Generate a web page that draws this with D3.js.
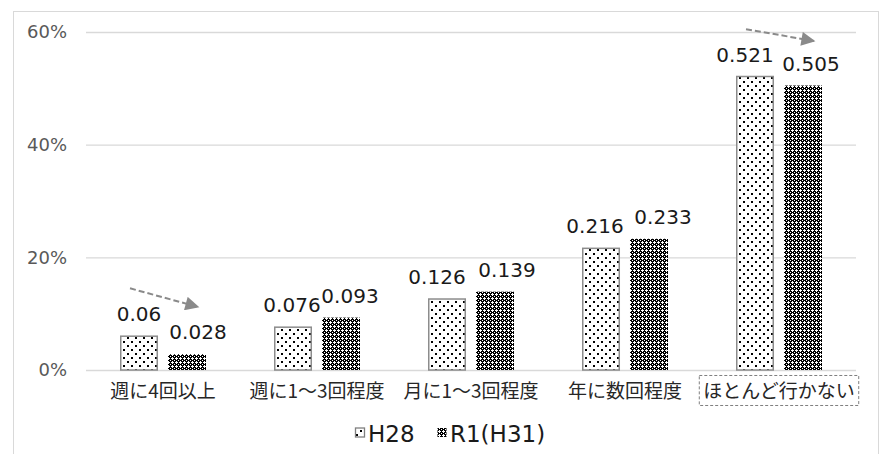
<!DOCTYPE html>
<html>
<head>
<meta charset="utf-8">
<script src="https://cdn.jsdelivr.net/npm/d3@7"></script>
<style>
  html, body { margin: 0; padding: 0; background: #fff; }
  svg { display: block; font-family: "DejaVu Sans", "Noto Sans CJK JP", sans-serif; }
</style>
</head>
<body>
<svg id="chart" width="884" height="454"></svg>
<script>
// Frequency categories and the two survey years
const categories = ["週に4回以上", "週に1～3回程度", "月に1～3回程度", "年に数回程度", "ほとんど行かない"];
const seriesNames = ["H28", "R1(H31)"];
const valuesH28 = [0.06, 0.076, 0.126, 0.216, 0.521];
const valuesR1 = [0.028, 0.093, 0.139, 0.233, 0.505];
const yTicks = [0, 0.2, 0.4, 0.6];
// Trend arrows: category index, start / end value heights
const trendArrows = [
  { cat: 0, from: 0.145, to: 0.112 },
  { cat: 4, from: 0.605, to: 0.584 }
];
const boxedCategory = "ほとんど行かない";

// Value labels were nudged sideways so neighbours do not collide (px)
const labelNudge = {
  "H28": [0, -1, -10, -6, -10],
  "R1(H31)": [11, 9, 12, 14, 8]
};

const latin = "\"DejaVu Sans\", sans-serif";
const cjk = "\"Noto Sans CJK JP\", sans-serif";

const svg = d3.select("#chart");
const defs = svg.append("defs");

// Dotted fill for H28
const pDots = defs.append("pattern").attr("id", "dots")
  .attr("patternUnits", "userSpaceOnUse").attr("width", 8).attr("height", 8);
pDots.append("rect").attr("width", 8).attr("height", 8).attr("fill", "#fff");
pDots.append("rect").attr("x", 1).attr("y", 1).attr("width", 2).attr("height", 2).attr("fill", "#000");
pDots.append("rect").attr("x", 5).attr("y", 5).attr("width", 2).attr("height", 2).attr("fill", "#000");

// Dark mesh for R1(H31)
const pMesh = defs.append("pattern").attr("id", "mesh")
  .attr("patternUnits", "userSpaceOnUse").attr("width", 4).attr("height", 4);
pMesh.append("rect").attr("width", 4).attr("height", 4).attr("fill", "#000");
pMesh.append("rect").attr("x", 1).attr("y", 2).attr("width", 3).attr("height", 1).attr("fill", "#fff");
pMesh.append("rect").attr("x", 2).attr("y", 1).attr("width", 1).attr("height", 3).attr("fill", "#fff");
pMesh.append("rect").attr("x", 0).attr("y", 0).attr("width", 1).attr("height", 1).attr("fill", "#fff");

defs.append("marker").attr("id", "arrowhead")
  .attr("viewBox", "0 0 10 10").attr("refX", 9).attr("refY", 5)
  .attr("markerWidth", 8).attr("markerHeight", 7)
  .attr("markerUnits", "strokeWidth").attr("orient", "auto")
  .append("path").attr("d", "M0,0 L10,5 L0,10 Z").attr("fill", "#8a8a8a");

// Chart frame
svg.append("rect").attr("x", 13.5).attr("y", 11.5).attr("width", 865).attr("height", 460)
  .attr("fill", "#fff").attr("stroke", "#d9d9d9").attr("stroke-width", 1);

const plot = { left: 86, right: 856, top: 32, bottom: 370 };

const x0 = d3.scaleBand().domain(categories).range([plot.left, plot.right]).padding(0);
const groupW = 86;
const x1 = d3.scaleBand().domain(seriesNames)
  .range([(x0.bandwidth() - groupW) / 2, (x0.bandwidth() + groupW) / 2])
  .paddingInner(0.208).paddingOuter(0);
const y = d3.scaleLinear().domain([0, 0.6]).range([plot.bottom, plot.top]);

// Gridlines and y labels
const yAxis = d3.axisLeft(y).tickValues(yTicks).tickFormat(d3.format(".0%"))
  .tickSize(-(plot.right - plot.left)).tickPadding(19);
const gy = svg.append("g").attr("transform", `translate(${plot.left},0)`).call(yAxis);
gy.select(".domain").remove();
gy.selectAll(".tick line").attr("stroke", "#d9d9d9").attr("stroke-width", 1.3);
gy.selectAll(".tick text").attr("fill", "#595959").attr("font-size", 18)
  .attr("font-family", latin);

// Category labels
const xAxis = d3.axisBottom(x0).tickSize(0).tickPadding(15);
const gx = svg.append("g").attr("transform", `translate(0,${plot.bottom})`).call(xAxis);
gx.select(".domain").remove();
gx.selectAll(".tick text").attr("fill", "#262626").attr("font-size", 19)
  .attr("font-family", cjk);

// Dashed box around the highlighted category label
gx.selectAll(".tick").filter(d => d === boxedCategory).each(function () {
  const t = d3.select(this).select("text");
  const bb = t.node().getBBox();
  d3.select(this).insert("rect", "text")
    .attr("x", bb.x - 4).attr("y", bb.y - 1)
    .attr("width", bb.width + 8).attr("height", bb.height + 3)
    .attr("fill", "none").attr("stroke", "#7f7f7f").attr("stroke-width", 1)
    .attr("stroke-dasharray", "3,2");
});

// Bars
const rows = categories.map((c, i) => ({ cat: c, vals: [
  { key: "H28", v: valuesH28[i], i },
  { key: "R1(H31)", v: valuesR1[i], i }
] }));

const groups = svg.append("g").selectAll("g").data(rows).join("g")
  .attr("transform", d => `translate(${x0(d.cat)},0)`);

groups.selectAll("rect").data(d => d.vals).join("rect")
  .attr("x", d => x1(d.key) + (d.key === "H28" ? 0.75 : 0))
  .attr("y", d => y(d.v))
  .attr("width", d => x1.bandwidth() - (d.key === "H28" ? 1.5 : 0))
  .attr("height", d => y(0) - y(d.v))
  .attr("fill", d => d.key === "H28" ? "url(#dots)" : "url(#mesh)")
  .attr("stroke", d => d.key === "H28" ? "#8c8c8c" : "none")
  .attr("stroke-width", 1.5);

groups.selectAll("text.val").data(d => d.vals).join("text")
  .attr("class", "val")
  .attr("x", d => x1(d.key) + x1.bandwidth() / 2 + labelNudge[d.key][d.i])
  .attr("y", d => y(d.v) - 15)
  .attr("text-anchor", "middle")
  .attr("font-size", 20)
  .attr("font-family", latin)
  .attr("fill", "#1a1a1a")
  .text(d => String(d.v));

// Trend arrows
svg.append("g").selectAll("line").data(trendArrows).join("line")
  .attr("x1", d => x0(categories[d.cat]) + x1("H28") + 10)
  .attr("y1", d => y(d.from))
  .attr("x2", d => x0(categories[d.cat]) + x1("R1(H31)") + x1.bandwidth() - 8)
  .attr("y2", d => y(d.to))
  .attr("stroke", "#8a8a8a").attr("stroke-width", 2)
  .attr("stroke-dasharray", "6,3")
  .attr("marker-end", "url(#arrowhead)");

// Legend
const legend = svg.append("g").attr("transform", "translate(355,433)");
const legItems = [
  { name: seriesNames[0], fill: "url(#dots)", stroke: "#7f7f7f", x: 0 },
  { name: seriesNames[1], fill: "url(#mesh)", stroke: "none", x: 82 }
];
const li = legend.selectAll("g").data(legItems).join("g")
  .attr("transform", d => `translate(${d.x},0)`);
li.append("rect").attr("x", 0.5).attr("y", -5).attr("width", 9).attr("height", 9)
  .attr("fill", d => d.fill).attr("stroke", d => d.stroke).attr("stroke-width", 1.3);
li.append("text").attr("x", 13).attr("y", 9)
  .attr("font-size", 23).attr("font-family", latin).attr("fill", "#1a1a1a")
  .text(d => d.name);
</script>
</body>
</html>
